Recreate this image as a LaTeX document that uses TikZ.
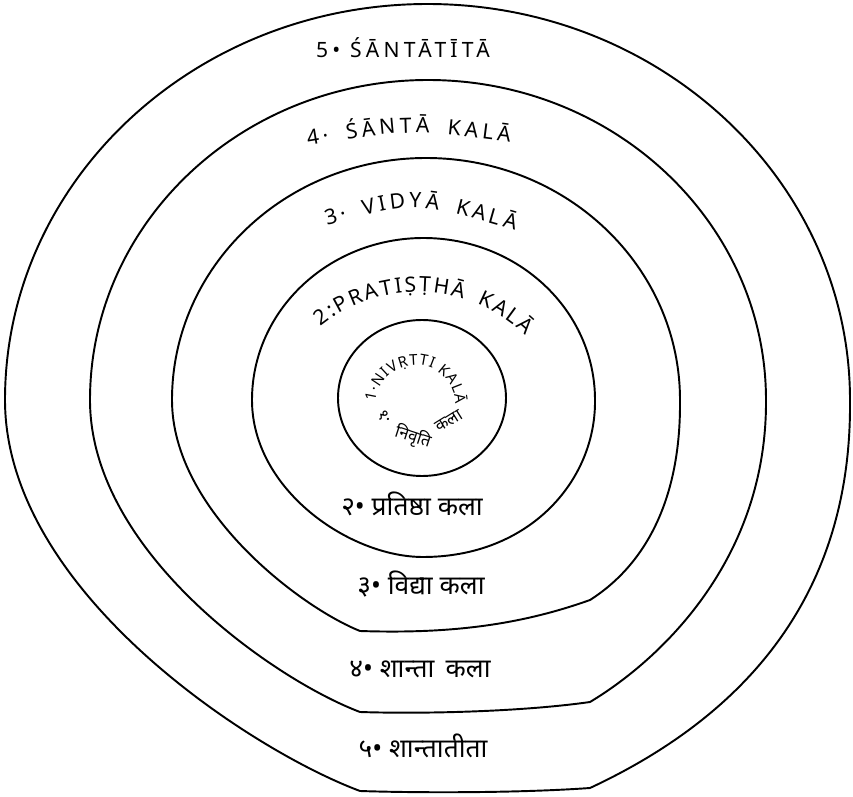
\documentclass[tikz,border=0pt]{standalone}
\usepackage{fontspec}
\setmainfont{Noto Sans}
\newfontfamily\capsfont[LetterSpace=20]{Noto Sans}
\newfontfamily\deva[Script=Devanagari]{Noto Sans}
\usetikzlibrary{decorations.text}
\def\latinlab{\capsfont\fontsize{12}{14}\selectfont}
\def\latinsmall{\fontsize{8.5}{10}\selectfont}
\def\devlab{\deva\fontsize{15}{17}\selectfont}
\def\devsmall{\deva\fontsize{9.5}{11}\selectfont}
\tikzset{
    ring/.style={line width=1.1pt, line join=round},
    fitlabel/.style={decorate, decoration={text along path, text={#1}, text align={fit to path}}}
}

\begin{document}
\begin{tikzpicture}[x=0.02cm, y=-0.02cm]
    \useasboundingbox (0,0) rectangle (853,797);

    \draw[ring] (5,400) arc[start angle=180, end angle=360, x radius=422.5, y radius=396]
        .. controls (852,600) and (740,718) .. (590,788)
        .. controls (520,793) and (420,793) .. (360,791)
        .. controls (250,750) and (5,590) .. cycle;
    \draw[ring] (90,400) arc[start angle=180, end angle=360, x radius=338, y radius=320]
        .. controls (767,560) and (660,660) .. (590,702)
        .. controls (520,712) and (420,714) .. (360,712)
        .. controls (275,680) and (90,552) .. cycle;
    \draw[ring] (172,400) arc[start angle=180, end angle=360, x radius=254, y radius=242]
        .. controls (681,500) and (645,565) .. (590,600)
        .. controls (520,625) and (450,634) .. (360,631)
        .. controls (300,607) and (172,510) .. cycle;
    \draw[ring] (252,400) arc[start angle=180, end angle=360, x radius=171.5, y radius=162]
        .. controls (596,480) and (530,557) .. (423,557)
        .. controls (350,557) and (252,490) .. cycle;
    \draw[ring] (422,398) ellipse [x radius=84, y radius=78];

    \node[anchor=base] (santatita) at (403,58) {\latinlab 5• ŚĀNTĀTĪTĀ};
    \path[fitlabel={|\latinlab|4· ŚĀNTĀ KALĀ}] (308,146) .. controls (409,129) .. (510,142);
    \path[fitlabel={|\latinlab|3· VIDYĀ KALĀ}] (327,226) .. controls (415,201) .. (515,230);
    \path[fitlabel={|\latinlab|2:PRATIṢṬHĀ KALĀ}] (418,447) ++(231:155) arc[start angle=231, end angle=314, radius=155];
    \path[fitlabel={|\latinsmall|1·NIVṚTTI KALĀ}] (416,405) ++(185:40) arc[start angle=185, end angle=359, radius=40];

    \foreach \x/\y/\t/\r [count=\i] in {385/417/१·/-50, 413/437/निवृति/-18, 449/421/कला/32}
        \node[rotate=\r, inner sep=0pt] (nivrtti\i) at (\x,\y) {\devsmall \t};

    \node[anchor=base] (pratistha) at (412,516) {\devlab २• प्रतिष्ठा कला};
    \node[anchor=base] (vidya) at (421,595) {\devlab ३• विद्या कला};
    \node[anchor=base] (santa) at (420,677) {\devlab ४• शान्ता\,\ कला};
    \node[anchor=base] (santatitadev) at (423,757) {\devlab ५• शान्तातीता};
\end{tikzpicture}
\end{document}
